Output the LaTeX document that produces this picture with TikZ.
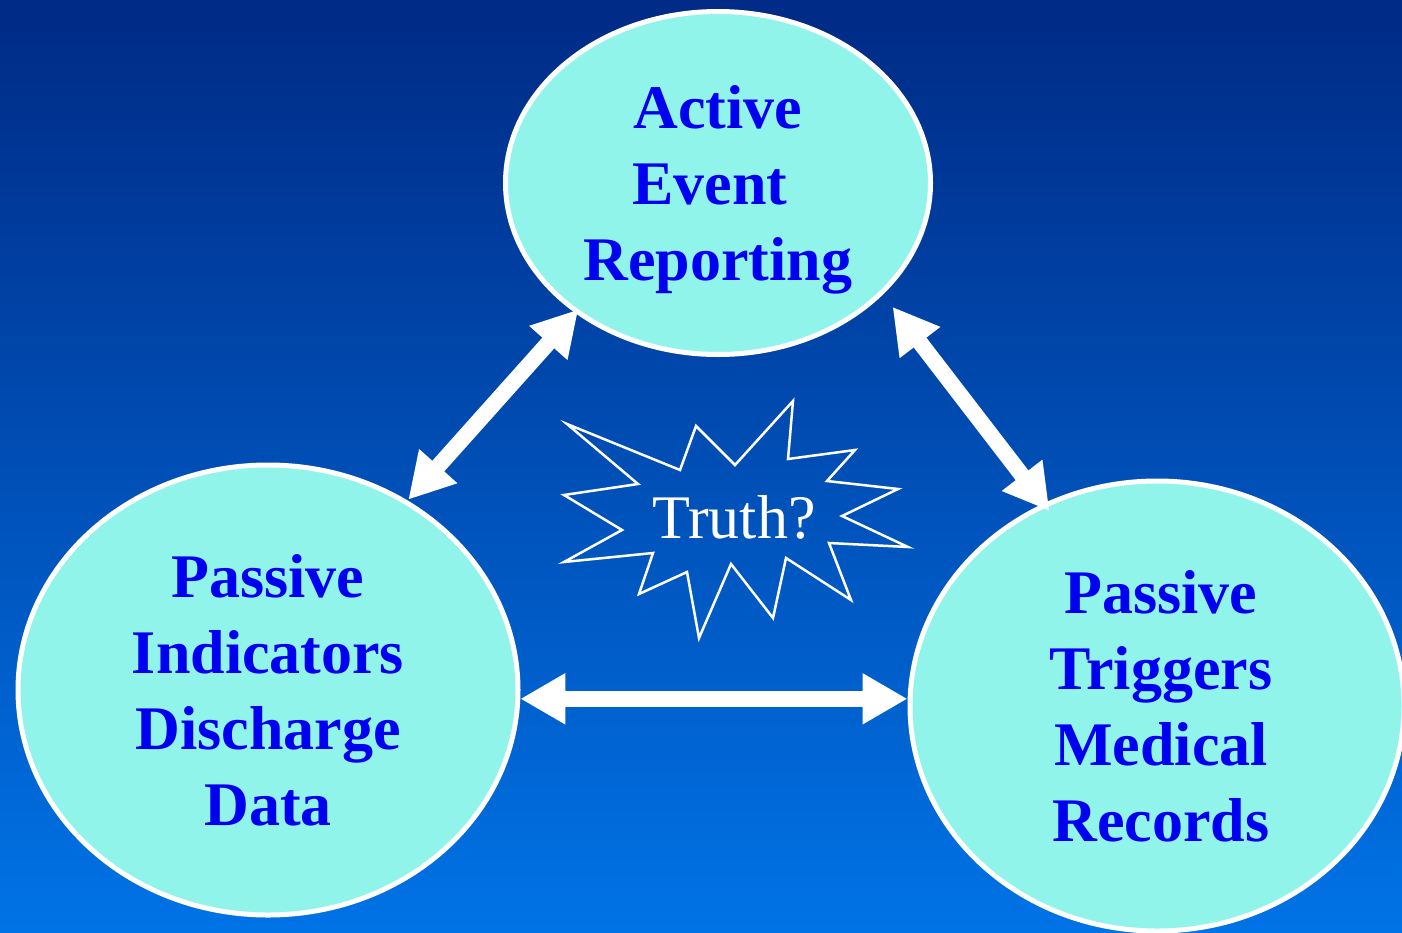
\documentclass[tikz,border=0pt]{standalone}
\usepackage{fontspec}
\setmainfont{Liberation Serif}
\usetikzlibrary{shapes.geometric,arrows.meta}
\definecolor{bgtop}{HTML}{002A85}
\definecolor{bgmid}{HTML}{0058C0}
\definecolor{bgbot}{HTML}{0073E6}
\definecolor{ellfill}{HTML}{90F4EA}
\definecolor{txtblue}{HTML}{0000F0}
\tikzset{
  bubble/.style={ellipse, draw=white, line width=5pt, fill=ellfill, inner sep=0pt,
    align=center, text=txtblue, font=\fontsize{62}{76}\selectfont\bfseries, text depth=0pt},
  dblarrow/.style={draw=white, line width=16pt,
    arrows={Triangle[length=45pt,width=48pt]-Triangle[length=45pt,width=48pt]}},
  burst/.style={draw=white, line width=2.5pt, line join=miter},
  truthtext/.style={text=white, font=\fontsize{62}{76}\selectfont, inner sep=0pt}
}
\begin{document}
\begin{tikzpicture}[x=1pt,y=-1pt]
\useasboundingbox (0,0) rectangle (1402,932);
\shade[top color=bgtop, middle color=bgmid, bottom color=bgbot] (0,0) rectangle (1402,932);

\node[bubble, minimum width=425pt, minimum height=343pt] (top) at (718,183) {Active\\Event\makebox[16pt]{}\\Reporting};
\node[bubble, minimum width=500pt, minimum height=450pt] (left) at (268,690) {Passive\\Indicators\\Discharge\\Data};
\node[bubble, minimum width=494pt, minimum height=450pt, text depth=-8pt] (right) at (1157,706) {\hspace*{8pt}Passive\\\hspace*{8pt}Triggers\\\hspace*{8pt}Medical\\\hspace*{8pt}Records};

\draw[burst] (567,424) -- (680,470) -- (696,426) -- (735,465) -- (793,401) -- (788,459)
  -- (855,450) -- (827,481) -- (898,489) -- (842,516) -- (908,547) -- (829,543)
  -- (851,600) -- (786,558) -- (773,618) -- (731,564) -- (699,638) -- (687,572)
  -- (639,594) -- (653,553) -- (564,562) -- (622,530) -- (564,495) -- (638,484) -- cycle;
\node[truthtext] (truth) at (734,517) {Truth?};

\draw[dblarrow] ([shift={(2,0)}]left.54) -- ([shift={(4,-3)}]top.222);
\draw[dblarrow] ([shift={(12,10)}]top.-35) -- ([shift={(5,8)}]right.119);
\draw[dblarrow] (left.-2.3) -- (right.west |- left.-2.3);
\end{tikzpicture}
\end{document}
